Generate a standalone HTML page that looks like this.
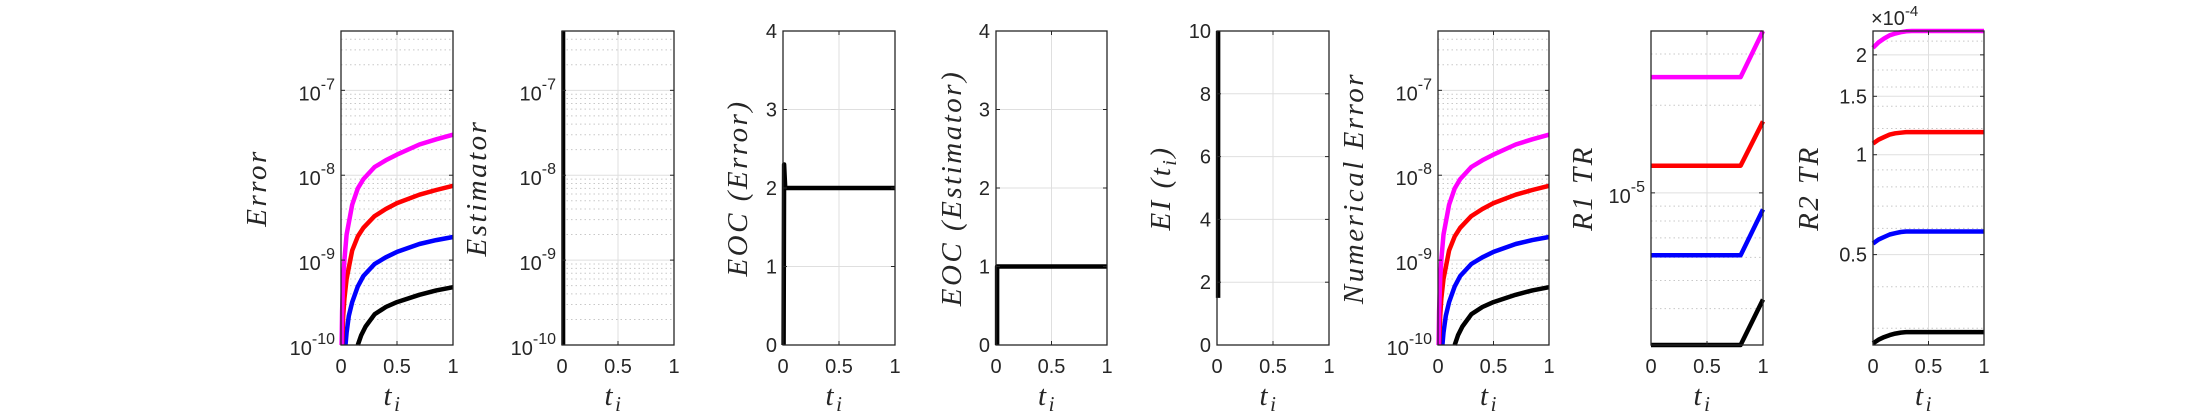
<!DOCTYPE html>
<html><head><meta charset="utf-8"><style>
html,body{margin:0;padding:0;background:#fff;}
svg{display:block;}
.tk{font-family:"Liberation Sans",sans-serif;font-size:20px;fill:#262626;}
.lb{font-family:"Liberation Serif",serif;font-style:italic;font-size:29px;fill:#262626;letter-spacing:2.5px;}
</style></head><body>
<svg id="fig" width="2187" height="417" viewBox="0 0 2187 417" xmlns="http://www.w3.org/2000/svg"></svg>
<script>
// ---- data ----
const errT_m=[0.005,0.01,0.02,0.03,0.05,0.1,0.15,0.2,0.3,0.4,0.5,0.7,0.85,1];
const errV_m=[1e-10,2.5e-10,6e-10,1e-9,2e-9,4.5e-9,7e-9,9e-9,1.25e-8,1.5e-8,1.75e-8,2.3e-8,2.65e-8,3.0e-8];
const errT_r=[0.01,0.02,0.03,0.05,0.1,0.15,0.2,0.3,0.4,0.5,0.7,0.85,1];
const errV_r=[1e-10,2.2e-10,3.5e-10,6e-10,1.3e-9,1.9e-9,2.4e-9,3.3e-9,4.0e-9,4.7e-9,5.9e-9,6.7e-9,7.5e-9];
const errT_b=[0.04,0.05,0.07,0.1,0.15,0.2,0.3,0.4,0.5,0.7,0.85,1];
const errV_b=[1e-10,1.4e-10,2.2e-10,3.2e-10,4.9e-10,6.5e-10,9e-10,1.08e-9,1.25e-9,1.55e-9,1.72e-9,1.87e-9];
const errT_k=[0.15,0.18,0.22,0.3,0.4,0.5,0.7,0.85,1];
const errV_k=[1e-10,1.3e-10,1.65e-10,2.3e-10,2.8e-10,3.2e-10,3.9e-10,4.4e-10,4.8e-10];
const estT=[0.012,0.012];
const estV=[1e-10,5e-7];
const eocErrT=[0.005,0.01,0.02,1];
const eocErrV=[0,2.3,2,2];
const eocEstT=[0.01,0.01,1];
const eocEstV=[0,1,1];
const eiT=[0.01,0.01];
const eiV=[1.5,10];
const r1T=[0,0.8,1];
const r1V_m=[2.5e-5,2.5e-5,3.6e-5];
const r1V_r=[1.24e-5,1.24e-5,1.76e-5];
const r1V_b=[6.1e-6,6.1e-6,8.77e-6];
const r1V_k=[3.0e-6,3.0e-6,4.3e-6];
const r2T=[0,0.05,0.1,0.15,0.2,0.25,0.3,0.35,0.4,1];
const r2V_m=[2.10e-4,2.18e-4,2.24e-4,2.29e-4,2.32e-4,2.34e-4,2.355e-4,2.36e-4,2.36e-4,2.36e-4];
const r2V_r=[1.08e-4,1.11e-4,1.13e-4,1.15e-4,1.16e-4,1.165e-4,1.17e-4,1.17e-4,1.17e-4,1.17e-4];
const r2V_b=[5.4e-5,5.55e-5,5.65e-5,5.75e-5,5.8e-5,5.85e-5,5.87e-5,5.87e-5,5.87e-5,5.87e-5];
const r2V_k=[2.7e-5,2.77e-5,2.82e-5,2.86e-5,2.89e-5,2.91e-5,2.92e-5,2.92e-5,2.92e-5,2.92e-5];
const xTicks=[0,0.5,1];
const xTickLabels=["0","0.5","1"];
const logTicks=[1e-10,1e-9,1e-8,1e-7];
const logTickExp=["-10","-9","-8","-7"];
const eocTicks=[0,1,2,3,4];
const eiTicks=[0,2,4,6,8,10];
const r2Ticks=[0.5e-4,1e-4,1.5e-4,2e-4];
const r2TickLabels=["0.5","1","1.5","2"];
// ---- drawing ----
const NS="http://www.w3.org/2000/svg";
const svg=document.getElementById('fig');
function el(tag,attrs,parent){const e=document.createElementNS(NS,tag);for(const k in attrs)e.setAttribute(k,attrs[k]);(parent||svg).appendChild(e);return e;}
const TOP=31,BOT=345;
function decMinors(lo,hi){const r=[];for(let e=Math.floor(Math.log10(lo));e<=Math.ceil(Math.log10(hi));e++)for(let m=2;m<=9;m++){const v=m*Math.pow(10,e);if(v>lo&&v<hi)r.push(v);}return r;}
function axes(name,L,R,ymin,ymax,log,label,labelX,sub){
  const g=el('g',{});
  
  
  const sx=t=>L+(R-L)*t;
  const sy=log?(v=>BOT-(BOT-TOP)*(Math.log10(v)-Math.log10(ymin))/(Math.log10(ymax)-Math.log10(ymin))):(v=>BOT-(BOT-TOP)*(v-ymin)/(ymax-ymin));
  return {g,sx,sy,L,R,name,label,labelX,sub};
}
function grid(a,majors,minors){
  for(const v of minors){const y=a.sy(v);const l=el('line',{x1:a.L,x2:a.R,y1:y,y2:y,stroke:'#c8c8c8','stroke-width':1,'stroke-dasharray':'1.5,3'},a.g);}
  for(const v of majors){const y=a.sy(v);const l=el('line',{x1:a.L,x2:a.R,y1:y,y2:y,stroke:'#dfdfdf','stroke-width':1},a.g);}
  for(const t of xTicks){const x=a.sx(t);const l=el('line',{x1:x,x2:x,y1:TOP,y2:BOT,stroke:'#dfdfdf','stroke-width':1},a.g);}
}
function series(a,ts,vs,color,w){
  const pts=ts.map((t,i)=>a.sx(t).toFixed(1)+','+Math.max(TOP,Math.min(BOT,a.sy(vs[i]))).toFixed(1)).join(' ');
  const p=el('polyline',{points:pts,fill:'none',stroke:color,'stroke-width':w,'stroke-linejoin':'round'},a.g);
  
  
}
function frame(a,yt,ytl,expLabels){
  const r=el('rect',{x:a.L,y:TOP,width:a.R-a.L,height:BOT-TOP,fill:'none',stroke:'#262626','stroke-width':1.3},a.g);
  
  
  xTicks.forEach((t,i)=>{const x=a.sx(t);
    el('line',{x1:x,x2:x,y1:BOT,y2:BOT-4,stroke:'#262626'},a.g);
    el('line',{x1:x,x2:x,y1:TOP,y2:TOP+4,stroke:'#262626'},a.g);
    const tx=el('text',{x:x,y:373,'text-anchor':'middle',class:'tk'},a.g);tx.textContent=xTickLabels[i];
    
    });
  yt.forEach((v,i)=>{const y=a.sy(v);
    el('line',{x1:a.L,x2:a.L+4,y1:y,y2:y,stroke:'#262626'},a.g);
    el('line',{x1:a.R,x2:a.R-4,y1:y,y2:y,stroke:'#262626'},a.g);
    const tx=el('text',{x:a.L-6,y:expLabels?y+10:y+7,'text-anchor':'end',class:'tk'},a.g);
    
    
    if(expLabels){tx.setAttribute('font-size','24');tx.textContent='10';const s=el('tspan',{'font-size':'16','dy':'-11'},tx);s.textContent=expLabels[i];}
    else tx.textContent=ytl[i];});
  const lab=el('text',{x:0,y:0,'text-anchor':'middle',class:'lb',transform:`translate(${a.labelX+10},188) rotate(-90)`},a.g);
  lab.textContent=a.label;
  if(a.sub){const s1=el('tspan',{'font-size':'20',dy:'6'},lab);s1.textContent='i';const s2=el('tspan',{dy:'-6'},lab);s2.textContent=')';}
  
  
  const xl=el('text',{x:(a.L+a.R)/2-4,y:405,'text-anchor':'middle',class:'lb','font-size':'31'},a.g);
  xl.textContent='t';
  
  
  const sub=el('tspan',{'font-size':'21',dy:'6'},xl);sub.textContent='i';
}
const MIN=1e-10,MAX=5e-7;
const LW=4.5;
// P1
let a=axes('error-plot',341,453,MIN,MAX,true,'Error',256);
grid(a,logTicks,decMinors(MIN,MAX));
series(a,errT_k,errV_k,'#000',LW);series(a,errT_b,errV_b,'#0000ff',LW);series(a,errT_r,errV_r,'#ff0000',LW);series(a,errT_m,errV_m,'#ff00ff',LW);
frame(a,logTicks,null,logTickExp);
// P2
a=axes('estimator-plot',562,674,MIN,MAX,true,'Estimator',476);
grid(a,logTicks,decMinors(MIN,MAX));
series(a,estT,estV,'#000',4);
frame(a,logTicks,null,logTickExp);
// P3
a=axes('eoc-error-plot',783,895,0,4,false,'EOC (Error)',737);
grid(a,eocTicks,[]);
series(a,eocErrT,eocErrV,'#000',4.5);
frame(a,eocTicks,eocTicks.map(String),null);
// P4
a=axes('eoc-estimator-plot',996,1107,0,4,false,'EOC (Estimator)',951);
grid(a,eocTicks,[]);
series(a,eocEstT,eocEstV,'#000',4.5);
frame(a,eocTicks,eocTicks.map(String),null);
// P5
a=axes('ei-plot',1217,1329,0,10,false,'EI (t',1160,true);
grid(a,eiTicks,[]);
series(a,eiT,eiV,'#000',4.5);
frame(a,eiTicks,eiTicks.map(String),null);
// P6
a=axes('numerical-error-plot',1438,1549,MIN,MAX,true,'Numerical Error',1353);
grid(a,logTicks,decMinors(MIN,MAX));
series(a,errT_k,errV_k,'#000',LW);series(a,errT_b,errV_b,'#0000ff',LW);series(a,errT_r,errV_r,'#ff0000',LW);series(a,errT_m,errV_m,'#ff00ff',LW);
frame(a,logTicks,null,logTickExp);
// P7
a=axes('r1tr-plot',1651,1763,3e-6,3.6e-5,true,'R1 TR',1582);
grid(a,[1e-5],[4e-6,5e-6,6e-6,7e-6,8e-6,9e-6,2e-5,3e-5]);
series(a,r1T,r1V_k,'#000',LW);series(a,r1T,r1V_b,'#0000ff',LW);series(a,r1T,r1V_r,'#ff0000',LW);series(a,r1T,r1V_m,'#ff00ff',LW);
frame(a,[1e-5],null,["-5"]);
// P8
a=axes('r2tr-plot',1873,1984,2.67e-5,2.36e-4,true,'R2 TR',1808);
grid(a,r2Ticks,[3e-5,4e-5,6e-5,7e-5,8e-5,9e-5,1.2e-4,1.4e-4,1.6e-4,1.8e-4,2.2e-4]);
series(a,r2T,r2V_k,'#000',LW);series(a,r2T,r2V_b,'#0000ff',LW);series(a,r2T,r2V_r,'#ff0000',LW);series(a,r2T,r2V_m,'#ff00ff',LW);
frame(a,r2Ticks,r2TickLabels,null);
const mult=el('text',{x:1871,y:25,class:'tk'});
mult.textContent='\u00D710';


const ms=el('tspan',{'font-size':'15',dy:'-9'},mult);ms.textContent='-4';
</script>
</body></html>
